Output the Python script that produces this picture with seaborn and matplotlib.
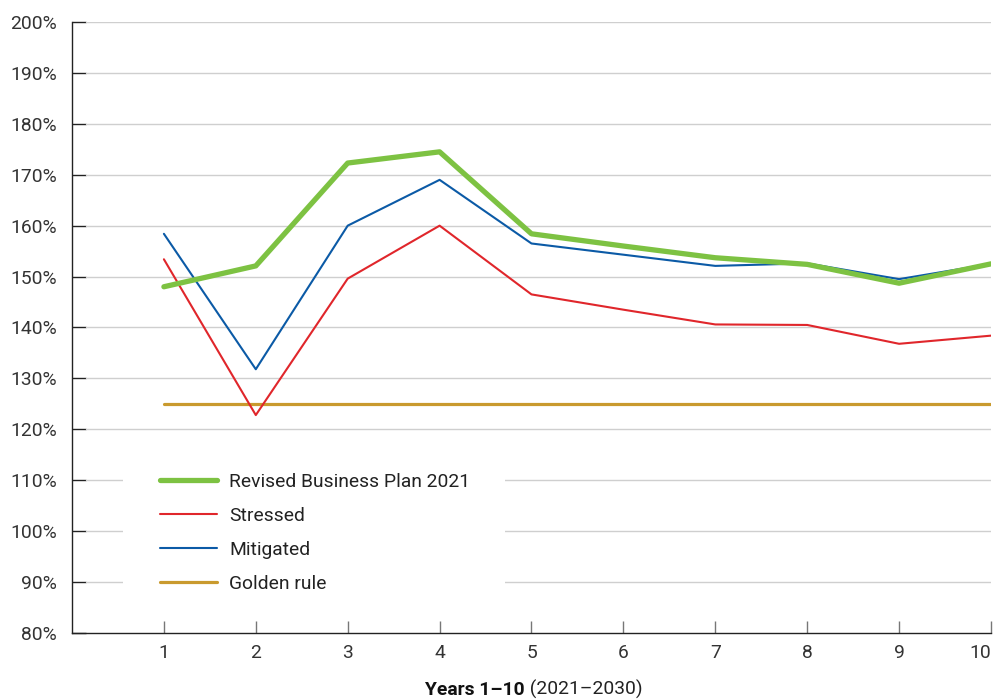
import matplotlib
matplotlib.use("Agg")
import matplotlib.pyplot as plt
import seaborn as sns
import pandas as pd
from matplotlib.patches import Rectangle
from matplotlib.lines import Line2D

years = [1, 2, 3, 4, 5, 6, 7, 8, 9, 10]
revised = [148.0, 152.1, 172.3, 174.5, 158.4, 156.0, 153.7, 152.4, 148.7, 152.5]
stressed = [153.4, 122.8, 149.6, 160.0, 146.5, 143.5, 140.6, 140.5, 136.8, 138.4]
mitigated = [158.4, 131.8, 160.0, 169.0, 156.5, 154.3, 152.1, 152.6, 149.5, 152.5]
golden = [125, 125, 125, 125, 125, 125, 125, 125, 125, 125]
series_names = ["Revised Business Plan 2021", "Stressed", "Mitigated", "Golden rule"]
yticks = list(range(80, 201, 10))
ytick_labels = [f"{v}%" for v in yticks]

colors = {"Revised Business Plan 2021": "#7DC242", "Stressed": "#E0262B",
          "Mitigated": "#0B5AA6", "Golden rule": "#C99A2E"}
widths = {"Revised Business Plan 2021": 3.8, "Stressed": 1.5,
          "Mitigated": 1.5, "Golden rule": 2.3}
zorders = {"Revised Business Plan 2021": 6, "Stressed": 4,
           "Mitigated": 5, "Golden rule": 3}

FS = 13.9

sns.set_theme(style="white")
plt.rcParams['font.family'] = ['Roboto', 'DejaVu Sans']

df = pd.DataFrame({
    "year": years * 4,
    "value": revised + stressed + mitigated + golden,
    "series": sum([[n] * len(years) for n in series_names], []),
})

fig = plt.figure(figsize=(9.95, 7.0), dpi=100)
ax = fig.add_axes([72 / 995, 67 / 700, 919 / 995, 611 / 700])

for name in ["Golden rule", "Stressed", "Mitigated", "Revised Business Plan 2021"]:
    sub = df[df.series == name]
    sns.lineplot(data=sub, x="year", y="value", ax=ax, color=colors[name],
                 linewidth=widths[name], zorder=zorders[name], legend=False)

ax.set_xlim(0, 10)
ax.set_ylim(80, 200)
ax.set_yticks(yticks)
ax.set_yticklabels(ytick_labels)
ax.set_xticks(years)
ax.set_xticklabels([str(y) for y in years])
ax.set_xlabel("")
ax.set_ylabel("")

for y in yticks[1:]:
    ax.plot([0.15, 10], [y, y], color="#cfcfcf", linewidth=1.0, zorder=1)

for s in ["top", "right"]:
    ax.spines[s].set_visible(False)
for s in ["left", "bottom"]:
    ax.spines[s].set_color("#222222")
    ax.spines[s].set_linewidth(1.0)

ax.tick_params(axis="y", direction="in", length=10, width=1.0, color="#222222",
               pad=11, labelsize=FS, labelcolor="#333333", left=True)
ax.tick_params(axis="x", direction="in", length=8.5, width=1.0, color="#777777",
               pad=8, labelsize=FS, labelcolor="#333333", bottom=True)

# white block behind legend
ax.add_patch(Rectangle((0.0555, 0.035), 0.416, 0.258, transform=ax.transAxes,
                       facecolor="white", edgecolor="none", zorder=2))

handles = [Line2D([], [], color=colors[n], linewidth=widths[n]) for n in series_names]
leg = ax.legend(handles, series_names, loc="upper left",
                bbox_to_anchor=((160 - 72) / 919, (633 - 473) / 611),
                frameon=False, borderpad=0, borderaxespad=0,
                handlelength=2.95, handletextpad=0.62, labelspacing=0.83,
                fontsize=FS)
for t in leg.get_texts():
    t.set_color("#222222")
leg.set_zorder(7)

t1 = fig.text(0.5275, 5 / 700, "Years 1\u201310", ha="right", va="baseline",
              fontsize=FS, fontweight="bold", color="#111111")
ax.annotate(" (2021\u20132030)", xy=(1, 0), xycoords=t1, va="bottom", ha="left",
            fontsize=FS, color="#222222", annotation_clip=False)

# keep the last x tick label inside the figure
fig.canvas.draw()
ax.xaxis.get_major_ticks()[-1].label1.set_horizontalalignment("right")
ax.xaxis.get_major_ticks()[-1].label1.set_x(10.03)

fig.savefig("out.png", dpi=100, facecolor="white")
